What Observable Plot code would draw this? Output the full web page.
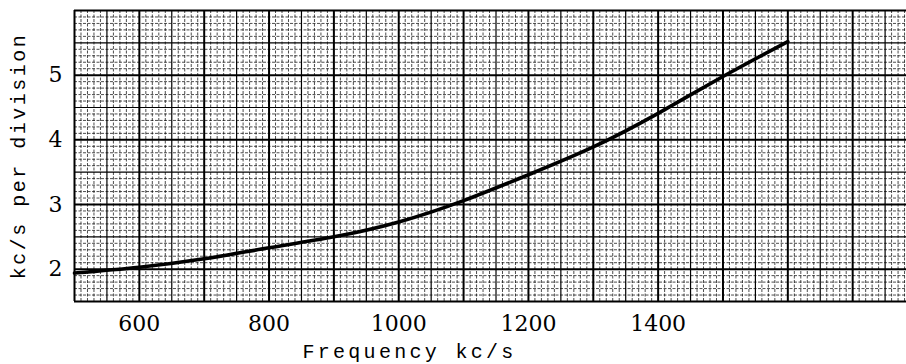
<!DOCTYPE html>
<html>
<head>
<meta charset="utf-8">
<script src="https://cdn.jsdelivr.net/npm/d3@7"></script>
<script src="https://cdn.jsdelivr.net/npm/@observablehq/plot@0.6"></script>
<style>
  html, body { margin: 0; padding: 0; background: #fff; }
  #chart { width: 906px; height: 364px; }
</style>
</head>
<body>
<div id="chart"></div>
<script>
// Data
const frequency = [500, 600, 700, 800, 900, 1000, 1100, 1200, 1300, 1400, 1500, 1600];
const kcPerDivision = [1.94, 2.03, 2.16, 2.33, 2.50, 2.73, 3.06, 3.46, 3.89, 4.41, 4.98, 5.52];
const xTickLabels = [600, 800, 1000, 1200, 1400];
const yTickLabels = [2, 3, 4, 5];
const xTitle = "Frequency kc/s";
const yTitle = "kc/s per division";

const xDomain = [500, 1783];
const yDomain = [1.5, 6];

const data = frequency.map((f, i) => ({f, v: kcPerDivision[i]}));

// graph-paper grid positions
const xAll = d3.range(500, 1790, 10);
const xMajor = xAll.filter(v => v % 100 === 0);
const xMid = xAll.filter(v => v % 50 === 0 && v % 100 !== 0);
const xMinor = xAll.filter(v => v % 50 !== 0);
const yAll = d3.range(15, 61, 1).map(v => v / 10);
const yMajor = yAll.filter(v => Math.abs(v - Math.round(v)) < 1e-9);
const yMid = yAll.filter(v => Math.abs(v * 2 - Math.round(v * 2)) < 1e-9 && !yMajor.includes(v));
const yMinor = yAll.filter(v => !yMajor.includes(v) && !yMid.includes(v));

const chart = Plot.plot({
  width: 906,
  height: 364,
  marginLeft: 74,
  marginRight: 0,
  marginTop: 10,
  marginBottom: 63,
  x: {domain: xDomain},
  y: {domain: yDomain},
  style: {background: "#fff", color: "#000", overflow: "hidden"},
  marks: [
    Plot.ruleX(xMinor, {stroke: "#000", strokeOpacity: 0.7, strokeWidth: 1, strokeDasharray: "3,1.5"}),
    Plot.ruleY(yMinor, {stroke: "#000", strokeOpacity: 0.7, strokeWidth: 1, strokeDasharray: "3,1.5"}),
    Plot.ruleX(xMid, {stroke: "#000", strokeWidth: 1.2}),
    Plot.ruleY(yMid, {stroke: "#000", strokeWidth: 1.2}),
    Plot.ruleX(xMajor, {stroke: "#000", strokeWidth: 2}),
    Plot.ruleY(yMajor, {stroke: "#000", strokeWidth: 2}),
    Plot.ruleY([yDomain[0]], {stroke: "#000", strokeWidth: 2}),
    Plot.line(data, {x: "f", y: "v", stroke: "#000", strokeWidth: 3.6, curve: "natural"}),
    Plot.axisX(xTickLabels, {tickSize: 0, tickPadding: 14, fontSize: 22, fontFamily: "DejaVu Serif",
      tickFormat: d => String(d), label: null}),
    Plot.axisY(yTickLabels, {tickSize: 0, tickPadding: 12, fontSize: 22, fontFamily: "DejaVu Serif",
      tickFormat: d => String(d), label: null}),
    Plot.text([xTitle], {text: d => d, frameAnchor: "bottom", textAnchor: "middle", lineAnchor: "middle",
      dx: -81, dy: 50, fontSize: 20, fontFamily: "Liberation Mono", fill: "#000"}),
    Plot.text([yTitle], {text: d => d, frameAnchor: "left", textAnchor: "middle", lineAnchor: "middle",
      rotate: -90, dx: -56, fontSize: 20, fontFamily: "Liberation Mono", fill: "#000"})
  ]
});

document.getElementById("chart").appendChild(chart);
chart.querySelectorAll("text").forEach(t => {
  if (t.textContent === xTitle) t.style.letterSpacing = "3.3px";
  if (t.textContent === yTitle) t.style.letterSpacing = "2.5px";
});
</script>
</body>
</html>
